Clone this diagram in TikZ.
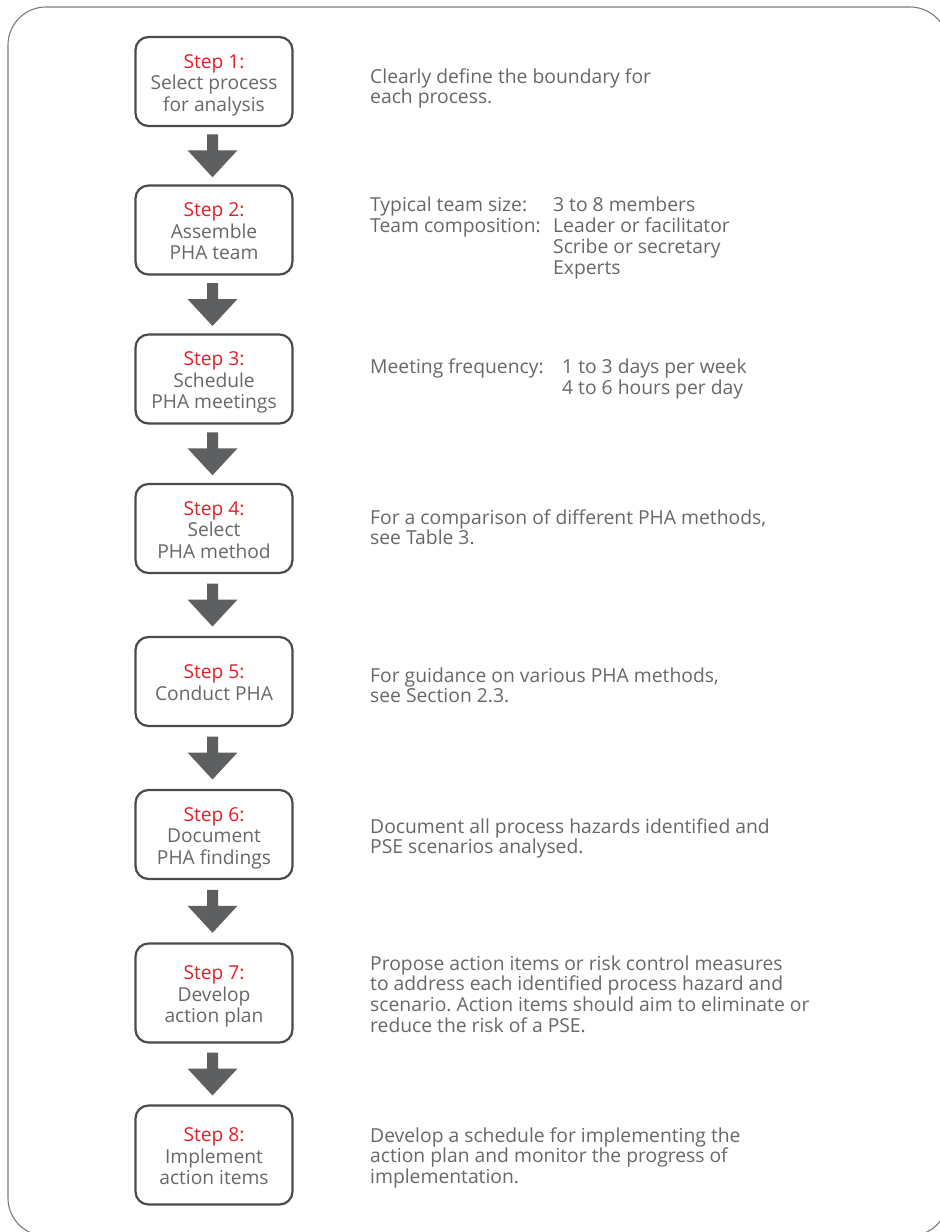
\documentclass[tikz,border=0pt]{standalone}
\usepackage{fontspec}
\setmainfont{Open Sans}
\usetikzlibrary{calc}
\frenchspacing

\definecolor{stepred}{HTML}{E31E26}
\definecolor{txtgray}{HTML}{66676A}
\definecolor{boxline}{HTML}{4A4A4C}
\definecolor{arrowgray}{HTML}{5E5F61}
\definecolor{framegray}{HTML}{7A7B7E}

\tikzset{
  stepbox/.style={draw=boxline, line width=2.2pt, rounded corners=13pt,
    minimum width=157pt, minimum height=89pt, inner sep=0pt,
    text=txtgray, font=\fontsize{19.2}{21.5}\selectfont},
  tallbox/.style={stepbox, minimum height=99pt},
  desc/.style={anchor=base west, inner sep=0pt, text=txtgray,
    font=\fontsize{19.3}{20.5}\selectfont},
  arrowfill/.style={fill=arrowgray, draw=none},
  frame/.style={draw=framegray, line width=1.1pt, rounded corners=38pt},
}

% block arrow centred in the gap between two step boxes
\newcommand\flowarrow[2]{%
  \path ($(#1.south)!0.5!(#2.north)+(-1.5,0)$) coordinate (#1#2m);
  \fill[arrowfill] ($(#1#2m)+(-5.5,-21.5)$) -- ++(11,0) -- ++(0,16)
    -- ++(19.5,0) -- ($(#1#2m)+(0,21.5)$) -- ($(#1#2m)+(-25,-5.5)$)
    -- ++(19.5,0) -- cycle;
}
% centred lines of a step box, the red step number first
\newcommand\steptext[2]{%
  \raisebox{-3.7pt}[\height][\depth]{\begin{tabular}{@{}c@{}}%
    {\color{stepred}Step #1:}\\#2\end{tabular}}}

\begin{document}
\begin{tikzpicture}[x=1pt, y=-1pt]
  \useasboundingbox (0,0) rectangle (940,1232);
  \begin{scope}
    \clip (0,0) rectangle (940,1232);
    \draw[frame] (8,7) rectangle (948,1236);
  \end{scope}

  % step boxes
  \node[stepbox] (s1) at (214,81.5) {\steptext{1}{Select process\\for analysis}};
  \node[stepbox] (s2) at (214,230)  {\steptext{2}{Assemble\\PHA team}};
  \node[stepbox] (s3) at (214,379)  {\steptext{3}{Schedule\\PHA meetings}};
  \node[stepbox] (s4) at (214,528.5){\steptext{4}{Select\\PHA method}};
  \node[stepbox] (s5) at (214,681.5){\steptext{5}{Conduct PHA}};
  \node[stepbox] (s6) at (214,834.5){\steptext{6}{Document\\PHA findings}};
  \node[tallbox] (s7) at (214,993)  {\steptext{7}{Develop\\action plan}};
  \node[tallbox] (s8) at (214,1155) {\steptext{8}{Implement\\action items}};

  % arrows between consecutive steps
  \flowarrow{s1}{s2}
  \flowarrow{s2}{s3}
  \flowarrow{s3}{s4}
  \flowarrow{s4}{s5}
  \flowarrow{s5}{s6}
  \flowarrow{s6}{s7}
  \flowarrow{s7}{s8}

  % descriptions
  \node[desc, font=\fontsize{19.3}{18.5}\selectfont] (d1) at (370,83) {\begin{tabular}[t]{@{}l@{}}
    Clearly define the boundary for\\
    each process.\end{tabular}};
  \node[desc, font=\fontsize{19.3}{21}\selectfont] (d2) at (370,211) {\begin{tabular}[t]{@{}l@{}}
    \makebox[183pt][l]{Typical team size:}3 to 8 members\\
    \makebox[183pt][l]{Team composition:}Leader or facilitator\\
    \makebox[183pt][l]{}Scribe or secretary\\
    \makebox[183pt][l]{}Experts\end{tabular}};
  \node[desc, font=\fontsize{19.3}{21.5}\selectfont] (d3) at (370,373) {\begin{tabular}[t]{@{}l@{}}
    \makebox[192pt][l]{Meeting frequency:}1 to 3 days per week\\
    \makebox[192pt][l]{}4 to 6 hours per day\end{tabular}};
  \node[desc] (d4) at (370,524) {\begin{tabular}[t]{@{}l@{}}
    For a comparison of different PHA methods,\\
    see Table 3.\end{tabular}};
  \node[desc] (d5) at (370,682) {\begin{tabular}[t]{@{}l@{}}
    For guidance on various PHA methods,\\
    see Section 2.3.\end{tabular}};
  \node[desc] (d6) at (370,833) {\begin{tabular}[t]{@{}l@{}}
    Document all process hazards identified and\\
    PSE scenarios analysed.\end{tabular}};
  \node[desc] (d7) at (370,970) {\begin{tabular}[t]{@{}l@{}}
    Propose action items or risk control measures\\
    to address each identified process hazard and\\
    scenario. Action items should aim to eliminate or\\
    reduce the risk of a PSE.\end{tabular}};
  \node[desc] (d8) at (370,1142) {\begin{tabular}[t]{@{}l@{}}
    Develop a schedule for implementing the\\
    action plan and monitor the progress of\\
    implementation.\end{tabular}};
\end{tikzpicture}
\end{document}
